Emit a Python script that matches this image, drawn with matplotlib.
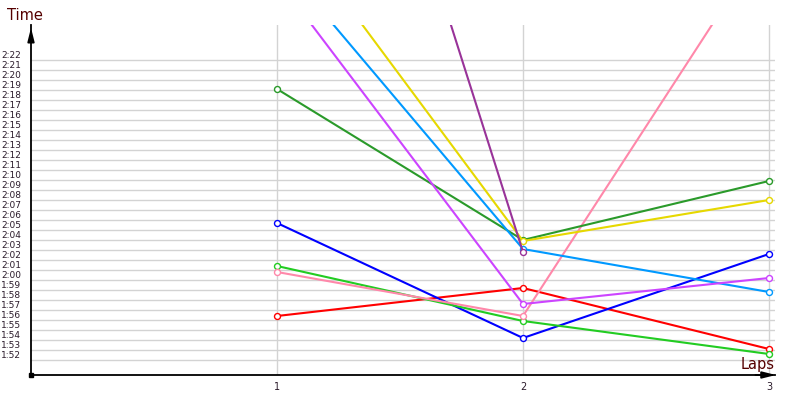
import matplotlib.pyplot as plt
import numpy as np

# lap times in seconds, laps 1..3 (nan = no time)
laps = [1, 2, 3]
red = [116.4, 119.2, 113.1]
blue = [125.7, 114.2, 122.6]
green = [121.4, 115.9, 112.6]
pink = [120.8, 116.4, 154.3]
dark_green = [139.1, 124.0, 129.9]
yellow = [157.0, 123.9, 128.0]
light_blue = [152.2, 123.1, 118.8]
magenta = [150.1, 117.6, 120.2]
purple = [200.3, 122.8, np.nan]

series = [
    (red, "#ff0000"),
    (blue, "#0000ff"),
    (green, "#22cc22"),
    (pink, "#ff88aa"),
    (dark_green, "#2a9a2a"),
    (yellow, "#e6d800"),
    (light_blue, "#0099ff"),
    (magenta, "#cc44ff"),
    (purple, "#993399"),
]

tick_secs = list(range(112, 143))
tick_labels = [f"{s // 60}:{s % 60:02d}" for s in tick_secs]

fig = plt.figure(figsize=(8, 4), dpi=100)
ax = fig.add_axes([31 / 800, 25 / 400, 744 / 800, 350 / 400])

for vals, col in series:
    ax.plot(laps, vals, color=col, lw=1.5, marker='o', markersize=4.3,
            markerfacecolor='white', markeredgecolor=col, markeredgewidth=1.0, zorder=3)

ax.set_xlim(0, 744 / 246)
ax.set_ylim(110.5, 145.5)
ax.set_xticks(laps)
ax.set_xticklabels([str(l) for l in laps])
ax.set_yticks(tick_secs)
ax.set_yticklabels(tick_labels)
ax.tick_params(axis='y', length=0, pad=7, labelsize=6.5, labelcolor='#2a1a2a')
ax.tick_params(axis='x', length=0, pad=5, labelsize=7, labelcolor='#2a1a2a')
plt.setp(ax.get_yticklabels(), va='bottom')

ax.grid(True, color='#d3d3d3', lw=1.0, zorder=0)
ax.set_axisbelow(True)

for side in ['top', 'right']:
    ax.spines[side].set_visible(False)
for side in ['left', 'bottom']:
    ax.spines[side].set_color('black')
    ax.spines[side].set_linewidth(1.3)

# axis arrows
ax.annotate('', xy=(0, 1.0), xytext=(0, 0.95), xycoords='axes fraction',
            arrowprops=dict(arrowstyle='-|>,head_length=0.8,head_width=0.2', color='black', lw=1.3))
ax.annotate('', xy=(1.005, 0), xytext=(0.97, 0), xycoords='axes fraction',
            arrowprops=dict(arrowstyle='-|>,head_length=0.8,head_width=0.2', color='black', lw=1.3))
ax.plot(0, 0, 's', color='black', markersize=2.5, transform=ax.transAxes, clip_on=False)

fig.text(25 / 800, 1 - 15 / 400, "Time", ha='center', va='center', fontsize=10.5, color='#550000')
fig.text(775 / 800, 1 - 365 / 400, "Laps", ha='right', va='center', fontsize=10.5, color='#550000')

fig.savefig("out.png", dpi=100)
